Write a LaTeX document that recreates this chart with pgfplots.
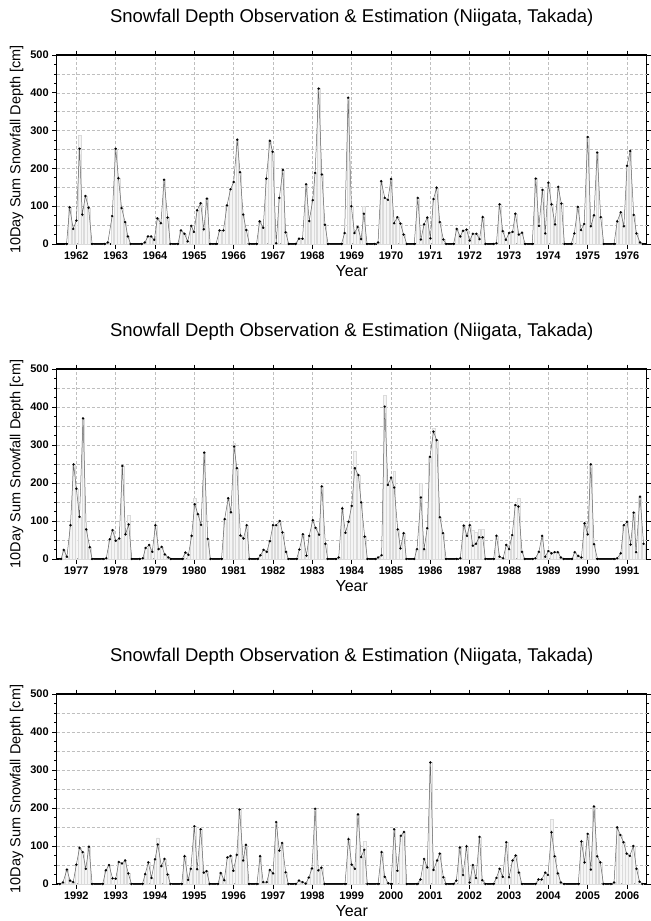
\documentclass[border=0pt]{standalone}
\usepackage{fontspec}
\setmainfont{Liberation Sans}
\usepackage{pgfplots}
\pgfplotsset{compat=1.18}
\usepackage{pgfplotstable}

% 10-day snowfall sums, Takada (Niigata): t = decimal year, est = estimation, obs = observation
\pgfplotstableread{
t est obs
1961.75 0 0
1961.83 97 97
1961.92 40 40
1962.00 62 62
1962.08 252 288
1962.15 78 78
1962.23 127 127
1962.31 96 96
1962.40 0 0
1962.72 0 0
1962.80 4 4
1962.91 74 74
1963.00 252 252
1963.07 174 174
1963.15 95 95
1963.24 58 58
1963.31 20 20
1963.38 0 0
1963.66 0 0
1963.74 4 4
1963.82 20 20
1963.90 20 20
1963.98 11 11
1964.06 68 68
1964.15 55 55
1964.23 170 170
1964.32 70 70
1964.39 0 0
1964.58 0 0
1964.66 36 36
1964.75 27 27
1964.83 7 7
1964.92 48 48
1964.99 32 32
1965.07 89 89
1965.16 108 108
1965.24 39 39
1965.32 120 120
1965.40 0 0
1965.55 0 0
1965.64 36 36
1965.74 36 36
1965.83 102 102
1965.92 145 145
1966.00 164 164
1966.09 276 276
1966.16 190 190
1966.24 78 78
1966.32 37 37
1966.40 0 0
1966.58 0 0
1966.66 60 60
1966.75 43 43
1966.83 173 173
1966.92 273 273
1966.99 244 244
1967.08 2 2
1967.16 122 122
1967.25 196 196
1967.32 31 31
1967.40 0 0
1967.57 0 0
1967.66 14 14
1967.75 14 14
1967.84 158 158
1967.92 61 61
1968.01 116 116
1968.07 188 188
1968.16 411 411
1968.24 184 184
1968.32 51 51
1968.40 0 0
1968.74 0 0
1968.82 29 29
1968.91 387 387
1968.99 100 100
1969.07 29 29
1969.15 45 45
1969.24 13 13
1969.31 80 100
1969.39 0 0
1969.58 0 0
1969.67 4 4
1969.75 166 166
1969.84 122 122
1969.92 117 117
1970.00 172 172
1970.08 55 55
1970.16 71 71
1970.24 54 54
1970.32 25 25
1970.40 0 0
1970.59 0 0
1970.68 122 122
1970.76 12 12
1970.84 52 52
1970.92 70 70
1971.00 15 15
1971.08 119 119
1971.16 149 149
1971.24 58 58
1971.33 12 12
1971.40 0 0
1971.59 0 0
1971.67 40 40
1971.76 20 20
1971.83 35 35
1971.92 38 38
1972.00 9 9
1972.08 27 27
1972.17 27 27
1972.25 13 13
1972.33 71 71
1972.40 0 0
1972.60 0 0
1972.68 2 2
1972.76 105 105
1972.84 34 34
1972.92 11 11
1973.00 29 29
1973.09 32 32
1973.16 80 80
1973.25 25 25
1973.33 30 30
1973.41 0 0
1973.59 0 0
1973.68 173 173
1973.76 48 48
1973.85 143 143
1973.92 28 28
1974.00 162 162
1974.08 105 105
1974.17 52 52
1974.25 151 151
1974.33 107 107
1974.41 0 0
1974.58 0 0
1974.66 28 28
1974.75 98 98
1974.83 37 37
1974.91 53 53
1975.00 283 283
1975.08 47 47
1975.16 76 76
1975.24 242 242
1975.33 71 71
1975.41 0 0
1975.67 0 0
1975.75 60 60
1975.84 84 84
1975.92 47 47
1976.00 207 207
1976.08 246 246
1976.17 77 77
1976.24 28 28
1976.33 4 4
1976.40 0 0
}\tabA

\pgfplotstableread{
t est obs
1976.61 0 0
1976.68 24 24
1976.76 6 6
1976.85 89 89
1976.93 249 249
1977.00 185 185
1977.08 111 111
1977.17 370 370
1977.25 78 78
1977.34 31 31
1977.40 0 0
1977.68 0 0
1977.76 2 2
1977.85 52 52
1977.92 76 76
1978.00 48 48
1978.09 54 54
1978.17 245 245
1978.25 65 65
1978.33 91 115
1978.41 0 0
1978.61 0 0
1978.69 2 2
1978.76 29 29
1978.85 37 37
1978.93 19 19
1979.01 89 89
1979.09 26 26
1979.17 32 32
1979.25 12 12
1979.34 4 4
1979.40 0 0
1979.69 0 0
1979.77 17 17
1979.85 11 11
1979.93 61 61
1980.01 144 160
1980.09 118 118
1980.17 90 90
1980.25 280 280
1980.34 53 53
1980.41 0 0
1980.69 0 0
1980.77 105 105
1980.86 160 160
1980.93 123 123
1981.01 296 305
1981.08 239 239
1981.17 62 62
1981.25 54 54
1981.33 89 89
1981.40 0 0
1981.61 0 0
1981.68 10 10
1981.76 24 24
1981.84 19 19
1981.92 47 47
1982.00 89 89
1982.08 89 89
1982.17 100 100
1982.24 70 70
1982.33 19 19
1982.39 0 0
1982.60 0 0
1982.67 25 25
1982.76 65 65
1982.85 9 9
1982.92 61 61
1983.01 102 102
1983.08 82 82
1983.17 64 64
1983.24 191 191
1983.33 40 40
1983.39 0 0
1983.60 0 0
1983.67 4 4
1983.76 133 133
1983.84 69 69
1983.92 98 98
1984.00 140 140
1984.08 239 285
1984.17 221 221
1984.24 149 149
1984.33 59 59
1984.40 0 0
1984.60 0 0
1984.67 4 4
1984.76 10 10
1984.84 401 430
1984.92 195 195
1985.00 214 214
1985.08 188 230
1985.17 78 78
1985.24 28 28
1985.32 68 68
1985.39 0 0
1985.59 0 0
1985.66 26 26
1985.76 162 200
1985.84 26 26
1985.92 81 81
1985.99 269 269
1986.08 335 345
1986.16 313 313
1986.24 110 110
1986.32 68 68
1986.40 0 0
1986.67 0 0
1986.76 2 2
1986.85 88 88
1986.93 61 61
1987.00 89 89
1987.08 35 75
1987.16 40 70
1987.24 57 78
1987.33 57 78
1987.40 0 0
1987.61 0 0
1987.68 61 61
1987.76 6 6
1987.85 2 2
1987.93 37 37
1988.00 26 26
1988.08 63 63
1988.16 142 142
1988.24 138 160
1988.33 19 19
1988.40 0 0
1988.60 0 0
1988.67 2 2
1988.76 19 19
1988.84 61 61
1988.92 6 6
1989.00 21 21
1989.08 15 15
1989.16 18 18
1989.24 18 18
1989.32 4 4
1989.39 0 0
1989.60 0 0
1989.67 18 18
1989.76 8 8
1989.84 4 4
1989.92 94 94
1990.00 65 65
1990.08 249 249
1990.16 39 39
1990.25 0 0
1990.67 0 0
1990.75 2 2
1990.84 15 15
1990.92 89 89
1991.00 98 98
1991.09 38 38
1991.17 122 122
1991.23 18 18
1991.33 164 164
1991.42 40 40
}\tabB

\pgfplotstableread{
t est obs
1991.58 0 0
1991.66 4 4
1991.76 38 38
1991.84 9 9
1991.92 5 5
1992.00 51 51
1992.08 95 95
1992.16 84 84
1992.24 40 40
1992.32 98 98
1992.40 0 0
1992.67 0 0
1992.75 36 36
1992.83 50 50
1992.92 15 15
1993.00 14 14
1993.08 58 58
1993.16 54 54
1993.24 62 62
1993.32 28 28
1993.40 0 0
1993.68 0 0
1993.75 26 26
1993.83 57 57
1993.91 16 16
1994.00 65 65
1994.07 104 122
1994.16 47 47
1994.24 66 66
1994.32 25 25
1994.39 0 0
1994.68 0 0
1994.75 73 73
1994.84 11 11
1994.91 40 40
1995.00 152 152
1995.07 39 39
1995.16 144 144
1995.24 30 30
1995.31 34 34
1995.39 0 0
1995.60 0 0
1995.67 29 29
1995.76 10 10
1995.84 70 70
1995.92 74 74
1995.99 35 35
1996.08 77 77
1996.15 196 196
1996.24 62 62
1996.31 103 103
1996.39 0 0
1996.59 0 0
1996.67 73 73
1996.75 5 5
1996.84 5 5
1996.92 37 37
1997.00 28 28
1997.08 163 163
1997.16 88 88
1997.23 108 108
1997.32 31 31
1997.39 0 0
1997.58 0 0
1997.66 9 9
1997.75 5 5
1997.83 1 1
1997.91 17 17
1997.99 41 41
1998.07 198 198
1998.15 36 36
1998.23 43 43
1998.31 0 0
1998.83 0 0
1998.92 118 118
1999.00 51 51
1999.08 40 40
1999.16 183 183
1999.24 71 71
1999.32 90 112
1999.40 0 0
1999.67 0 0
1999.76 84 84
1999.84 19 19
1999.93 2 2
2000.00 0 0
2000.08 144 144
2000.16 35 35
2000.25 127 127
2000.33 137 137
2000.40 0 0
2000.66 0 0
2000.75 12 12
2000.84 66 66
2000.92 44 44
2001.00 320 320
2001.08 37 37
2001.17 62 62
2001.24 80 80
2001.33 18 18
2001.40 0 0
2001.58 0 0
2001.66 9 9
2001.75 96 96
2001.83 24 24
2001.92 99 99
2002.00 4 4
2002.08 50 50
2002.16 16 16
2002.25 124 124
2002.32 10 10
2002.40 0 0
2002.60 0 0
2002.68 16 16
2002.76 40 40
2002.84 19 19
2002.93 110 110
2003.00 18 18
2003.09 62 62
2003.17 75 75
2003.25 30 30
2003.33 0 0
2003.67 0 0
2003.75 12 12
2003.83 12 12
2003.92 30 30
2003.99 24 24
2004.08 136 170
2004.16 73 73
2004.24 28 28
2004.32 4 4
2004.40 0 0
2004.76 0 0
2004.84 112 112
2004.92 57 57
2005.00 132 132
2005.08 38 38
2005.16 204 204
2005.24 73 73
2005.32 57 57
2005.40 0 0
2005.59 0 0
2005.67 4 4
2005.75 149 149
2005.83 129 129
2005.91 110 110
2005.99 80 80
2006.07 74 74
2006.16 100 100
2006.24 40 40
2006.32 6 6
2006.39 0 0
}\tabC

\pgfplotsset{
  snowpanel/.style={
    scale only axis,
    width=590bp,
    anchor=south west,
    ymin=0, ymax=500,
    ytick={0,100,...,500},
    minor y tick num=3,
    ymajorgrids=true,
    extra y ticks={50,150,250,350,450},
    extra y tick labels={},
    extra y tick style={grid=major, major tick length=2.5bp},
    tick align=outside,
    major tick length=4.5bp,
    minor tick length=2.5bp,
    tick style={black, line width=0.8bp},
    axis line style={line width=1.1bp},
    grid style={densely dashed, gray!50, line width=0.5bp},
    /pgf/number format/assume math mode=true,
    x tick label style={/pgf/number format/1000 sep={}},
    ticklabel style={font=\fontsize{11bp}{13bp}\selectfont\bfseries},
    title={Snowfall Depth Observation \& Estimation (Niigata, Takada)},
    title style={font=\fontsize{18.5bp}{22bp}\selectfont, anchor=base,
      at={(axis description cs:0.5,1)}, yshift=27bp},
    xlabel={Year},
    xlabel style={font=\fontsize{16bp}{19bp}\selectfont, anchor=base,
      at={(axis description cs:0.5,0)}, yshift=-32bp},
    ylabel={10Day Sum Snowfall Depth [cm]},
    ylabel style={font=\fontsize{14.5bp}{17bp}\selectfont, anchor=center,
      at={(axis description cs:-0.0678,0.5)}},
  },
  obsbars/.style={ybar, bar width=0.07, fill=gray!8, draw=gray!28, line width=0.3bp},
  estline/.style={color=black!60, line width=0.5bp, mark=*, mark size=1.1bp,
    mark options={fill=black, draw=black, line width=0.2bp}},
}

\begin{document}
\begin{tikzpicture}
\useasboundingbox (0,0) rectangle (651bp,-921bp);

% 1962-1976
\begin{axis}[snowpanel, at={(56.7bp,-244bp)}, height=189bp,
  xmin=1961.5, xmax=1976.5, xtick={1962,1963,...,1976}, xmajorgrids=true]
  \addplot[obsbars] table[x=t, y=obs] {\tabA};
  \addplot[estline] table[x=t, y=est] {\tabA};
\end{axis}

% 1977-1991
\begin{axis}[snowpanel, at={(56.7bp,-559bp)}, height=190bp,
  xmin=1976.5, xmax=1991.5, xtick={1977,1978,...,1991}, xmajorgrids=true]
  \addplot[obsbars] table[x=t, y=obs] {\tabB};
  \addplot[estline] table[x=t, y=est] {\tabB};
\end{axis}

% 1992-2006
\begin{axis}[snowpanel, at={(56.7bp,-884bp)}, height=190bp,
  xmin=1991.5, xmax=2006.5, xtick={1992,1993,...,2006}]
  \addplot[obsbars] table[x=t, y=obs] {\tabC};
  \addplot[estline] table[x=t, y=est] {\tabC};
\end{axis}
\end{tikzpicture}
\end{document}
